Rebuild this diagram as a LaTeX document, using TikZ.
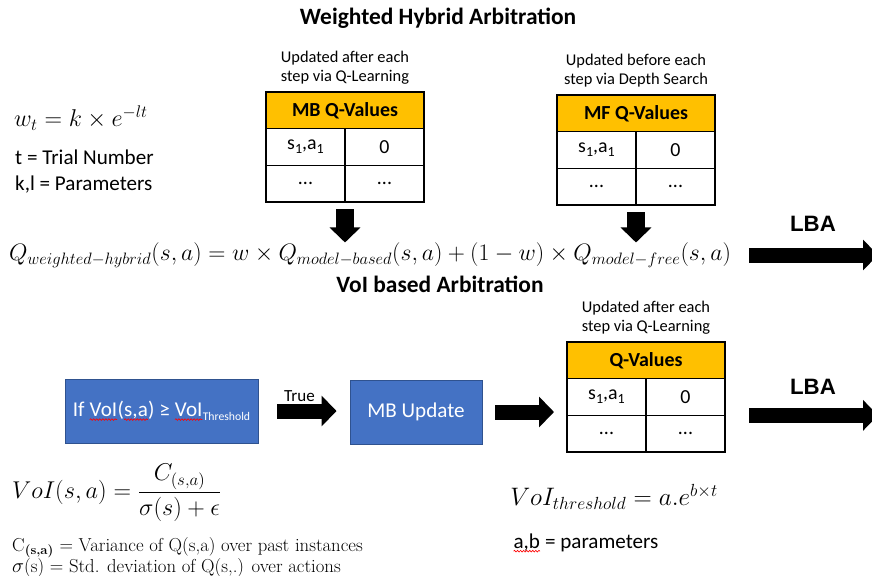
\documentclass[tikz,border=0pt]{standalone}
\usepackage{amsmath}
\usepackage{fontspec}
\newfontfamily\carl{Carlito}
\newfontfamily\arialfont{Liberation Sans}
\usepackage{tikz}
\usetikzlibrary{positioning, arrows.meta, decorations.pathmorphing}

\definecolor{headorange}{HTML}{FFC000}
\definecolor{boxblue}{HTML}{4472C4}
\definecolor{boxedge}{HTML}{2F528F}

% red spell-check wave under a word
\newcommand{\redwave}[1]{\tikz[baseline=(w.base)]{\node[inner sep=0pt, outer sep=0pt, minimum size=0pt, draw=none, fill=none, anchor=center] (w) {#1};
  \draw[red, line width=0.55pt, decorate, decoration={snake, amplitude=0.7pt, segment length=2.6pt}] ([yshift=-2.4pt]w.base west) -- ([yshift=-2.4pt]w.base east);}}
\newcommand{\lowsub}[1]{\raisebox{-0.45ex}{\fontsize{12}{14}\selectfont #1}}

\tikzset{
  title/.style={font=\carl\bfseries\fontsize{20}{24}\selectfont},
  note/.style={align=center, font=\carl\fontsize{14}{16.2}\selectfont},
  qhead/.style={draw, line width=0.9pt, fill=headorange, minimum width=4.74cm, minimum height=1.1cm, outer sep=0pt, font=\carl\bfseries\fontsize{17}{20}\selectfont},
  qcell/.style={draw, line width=0.9pt, minimum width=2.37cm, minimum height=1.1cm, outer sep=0pt, font=\carl\fontsize{17}{20}\selectfont},
  vbox/.style={draw=boxedge, line width=0.8pt, fill=boxblue, text=white, minimum height=1.92cm, font=\carl\fontsize{18}{22}\selectfont},
  lba/.style={font=\arialfont\bfseries\fontsize{19}{22}\selectfont},
  fatarrow/.style={line width=0.45cm, -{Triangle[length=0.45cm, width=0.9cm]}},
}

% one Q-value table: name, top left corner, heading
\newcommand{\qtable}[3]{%
  \node[qhead, anchor=north west] (#1h) at (#2) {#3};
  \node[qcell, anchor=north west] (#1a) at (#1h.south west) {s\lowsub{1},a\lowsub{1}};
  \node[qcell, anchor=north west] (#1b) at (#1a.north east) {0};
  \node[qcell, anchor=north west] (#1c) at (#1a.south west) {...};
  \node[qcell, anchor=north west] (#1d) at (#1c.north east) {...};
}

\begin{document}
\begin{tikzpicture}[x=0.03cm, y=-0.03cm, every node/.append style={inner sep=0pt}]
  \useasboundingbox (0,0) rectangle (872,575);

  % weighted hybrid part
  \node[title] (wtitle) at (438,18) {Weighted Hybrid Arbitration};
  \node[anchor=west, font=\fontsize{21}{25}\selectfont] (weq) at (14,118) {$w_t = k \times e^{-lt}$};
  \node[anchor=north west, align=left, font=\carl\fontsize{18}{22.2}\selectfont] (params) at (15,150) {t = Trial Number\\k,l = Parameters};

  \qtable{mb}{266,92}{MB Q-Values}
  \qtable{mf}{557,95}{MF Q-Values}
  \node[note, above=0.22cm of mbh] (mbnote) {Updated after each\\step via Q-Learning};
  \node[note, above=0.22cm of mfh] (mfnote) {Updated before each\\step via Depth Search};

  \node[scale=0.978, font=\fontsize{20}{24}\selectfont] (qeq) at (370,255) {$Q_{weighted-hybrid}(s,a) = w \times Q_{model-based}(s,a) + (1-w) \times Q_{model-free}(s,a)$};
  \draw[fatarrow, line width=0.54cm, shorten <=0.21cm] (mbc.south east) -- (mbc.south east |- qeq.north);
  \draw[fatarrow, line width=0.54cm, shorten <=0.21cm] (mfc.south east) -- (mfc.south east |- qeq.north);

  \node[lba] (lba1) at (813,224) {LBA};
  \coordinate (lbaend) at (878,255);
  \draw[fatarrow, shorten <=0.54cm] (qeq.east) -- (lbaend);

  % VoI based part
  \node[title] (vtitle) at (440,284) {VoI based Arbitration};

  \node[vbox, minimum width=5.79cm] (cond) at (161.5,411) {If \redwave{VoI}(\redwave{s,a}) ≥ \redwave{VoI}\raisebox{-3pt}{\fontsize{10}{12}\selectfont Threshold}};
  \node[vbox, minimum width=3.96cm] (mbup) at (416,412) {MB Update};
  \qtable{qv}{567,342}{Q-Values}
  \node[note, above=0.22cm of qvh] (qvnote) {Updated after each\\step via Q-Learning};

  \draw[fatarrow, shorten <=0.57cm, shorten >=0.39cm] (cond.east) -- (cond.east -| mbup.west)
    node[pos=0.45, above=0.06cm, fill=white, font=\carl\fontsize{14.5}{17}\selectfont] (truelbl) {True};
  \draw[fatarrow, shorten <=0.39cm, shorten >=0.39cm] (mbup.east) -- (mbup.east -| qva.west);

  \node[lba] (lba2) at (813,387) {LBA};
  \draw[fatarrow, shorten <=0.72cm] (qvb.south east) -- (qvb.south east -| lbaend);

  \node[anchor=west, font=\fontsize{20}{24}\selectfont] (voieq) at (12,493) {$VoI(s,a) = \dfrac{C_{(s,a)}}{\sigma(s)+\epsilon}$};
  \node[anchor=north west, align=left, font=\fontsize{16}{18}\selectfont] (voidef) at (12,537) {C$_{\textbf{(s,a)}}$ = Variance of Q(s,a) over past instances\\$\sigma$(s) = Std. deviation of Q(s,.) over actions};

  \node[anchor=west, scale=1.04, font=\fontsize{20}{26}\selectfont] (threq) at (510,497) {$VoI_{threshold} = a.e^{b\times t}$};
  \node[anchor=west, font=\carl\fontsize{18}{22}\selectfont] (abpar) at (513,543) {\redwave{a,b} = parameters};
\end{tikzpicture}
\end{document}
